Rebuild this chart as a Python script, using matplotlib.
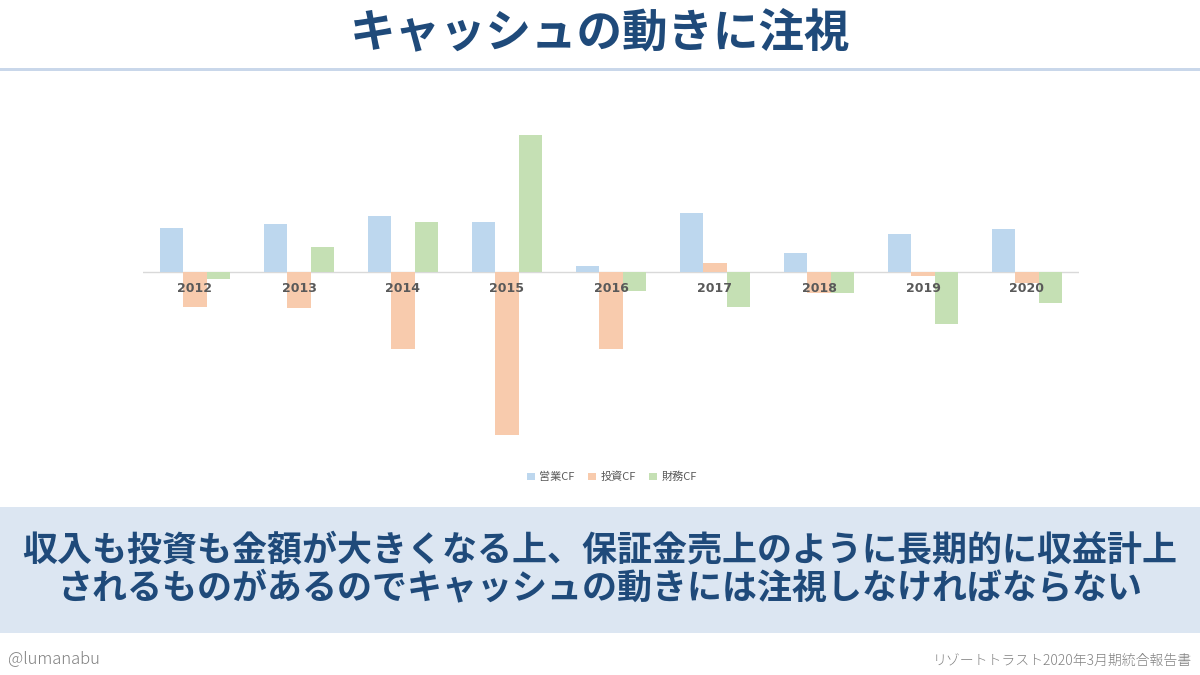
import matplotlib
matplotlib.use("Agg")
import matplotlib.pyplot as plt
import numpy as np
from matplotlib.patches import Rectangle

plt.rcParams['font.family'] = ['Noto Sans CJK JP', 'DejaVu Sans']

years = ["2012", "2013", "2014", "2015", "2016", "2017", "2018", "2019", "2020"]
series_names = ["営業CF", "投資CF", "財務CF"]
operating_cf = [44, 48, 56, 50, 6, 59, 19, 38, 43]
investing_cf = [-35, -36, -77, -163, -77, 9, -21, -4, -11]
financing_cf = [-7, 25, 50, 137, -19, -35, -21, -52, -31]
colors = ["#bdd7ee", "#f8cbad", "#c5e0b4"]

title = "キャッシュの動きに注視"
message_lines = ["収入も投資も金額が大きくなる上、保証金売上のように長期的に収益計上",
                 "されるものがあるのでキャッシュの動きには注視しなければならない"]
author = "@lumanabu"
source = "リゾートトラスト2020年3月期統合報告書"

W, H = 1200, 675
fig = plt.figure(figsize=(12, 6.75), dpi=100)
fig.patch.set_facecolor("white")

# title and line under it
fig.text(0.5, 1 - 33 / H, title, ha="center", va="center", fontsize=32.8,
         fontweight="bold", color="#1f4a7a")
fig.patches.append(Rectangle((0, 1 - 71 / H), 1, 3.5 / H, transform=fig.transFigure,
                             facecolor="#c9d7ea", edgecolor="none"))

# chart axes
ax_left, ax_right = 143, 1079
ax_top, ax_bottom = 127, 442
ax = fig.add_axes([ax_left / W, 1 - ax_bottom / H, (ax_right - ax_left) / W,
                   (ax_bottom - ax_top) / H])
x = np.arange(len(years))
bw = 0.224
for i, (vals, c, name) in enumerate(zip([operating_cf, investing_cf, financing_cf],
                                        colors, series_names)):
    ax.bar(x + (i - 1) * bw, vals, width=bw, color=c, label=name, zorder=2)
ax.set_xlim(-0.5, len(years) - 0.5)
ax.set_ylim(-170, 145)
ax.axhline(0, color="#d9d9d9", lw=1, zorder=1)
for s in ax.spines.values():
    s.set_visible(False)
ax.set_xticks([])
ax.set_yticks([])
for xi, y in zip(x, years):
    ax.text(xi, -16, y, ha="center", va="center", fontsize=9, fontweight="bold",
            color="#595959", zorder=3, family=["DejaVu Sans"])
leg = fig.legend(loc="center", bbox_to_anchor=(612 / W, 1 - 477 / H), ncol=3,
                 frameon=False, fontsize=8, handlelength=0.7, handleheight=0.7,
                 handletextpad=0.4, columnspacing=1.2)
for t in leg.get_texts():
    t.set_color("#595959")

# bottom banner
fig.patches.append(Rectangle((0, 1 - 633 / H), 1, 126 / H, transform=fig.transFigure,
                             facecolor="#dce6f2", edgecolor="none"))
fig.text(0.5, 1 - 551 / H, message_lines[0], ha="center", va="center", fontsize=25.2,
         fontweight="bold", color="#1f4a7a")
fig.text(0.5, 1 - 588 / H, message_lines[1], ha="center", va="center", fontsize=25.2,
         fontweight="bold", color="#1f4a7a")

# footer
fig.text(8 / W, 1 - 659 / H, author, ha="left", va="center", fontsize=12,
         color="#808080", fontweight="light")
fig.text(1192 / W, 1 - 661 / H, source, ha="right", va="center", fontsize=10,
         color="#808080", fontweight="light")

fig.savefig("out.png", dpi=100)
